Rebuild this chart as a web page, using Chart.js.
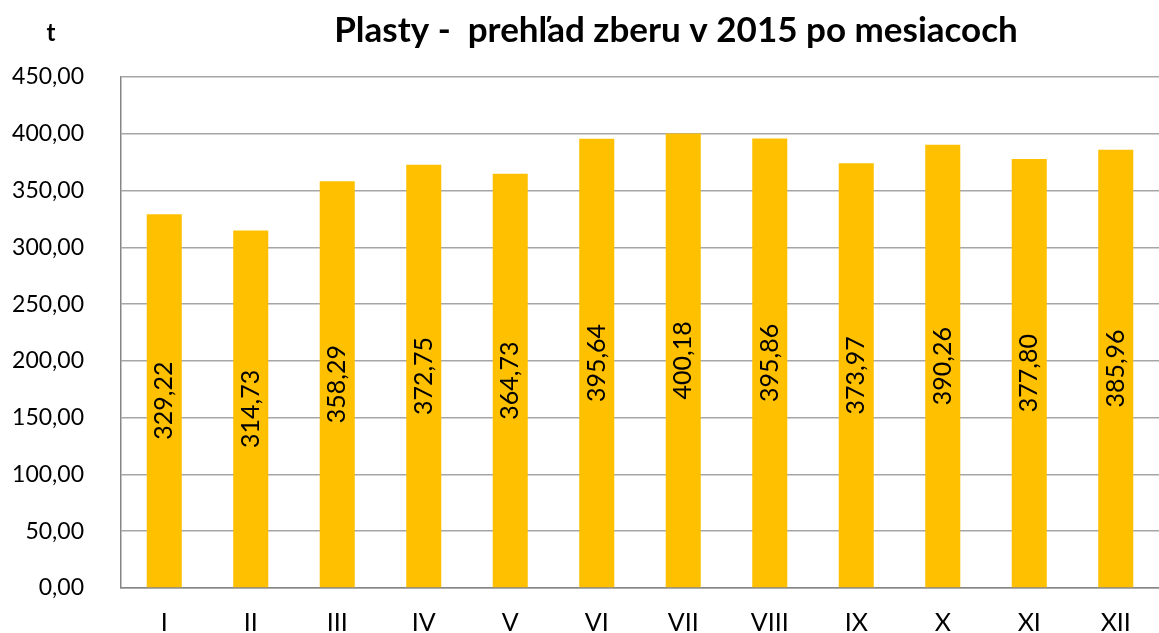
<!DOCTYPE html>
<html>
<head>
<meta charset="utf-8">
<script src="https://cdn.jsdelivr.net/npm/chart.js@4/dist/chart.umd.min.js"></script>
<style>
  html, body { margin: 0; padding: 0; background: #fff; }
  #wrap { width: 1159px; height: 633px; }
</style>
</head>
<body>
<div id="wrap"><canvas id="plastyChart" width="1159" height="633"></canvas></div>
<script>
const months = ['I', 'II', 'III', 'IV', 'V', 'VI', 'VII', 'VIII', 'IX', 'X', 'XI', 'XII'];
const tons = [329.22, 314.73, 358.29, 372.75, 364.73, 395.64, 400.18, 395.86, 373.97, 390.26, 377.80, 385.96];
const chartTitle = 'Plasty -  prehľad zberu v 2015 po mesiacoch';
const unitLabel = 't';

const fontFamily = 'Lato, "Open Sans", sans-serif';
const fmt = v => v.toFixed(2).replace('.', ',');

// title, unit and vertical value labels inside the bars
const labelsPlugin = {
  id: 'labels',
  afterDatasetsDraw(chart) {
    const ctx = chart.ctx;
    ctx.save();
    ctx.fillStyle = '#000';
    ctx.font = 'bold 35px ' + fontFamily;
    ctx.textAlign = 'center';
    ctx.textBaseline = 'middle';
    ctx.fillText(chartTitle, 676, 31);
    ctx.font = 'bold 24px ' + fontFamily;
    ctx.fillText(unitLabel, 51, 33);

    ctx.font = '25px ' + fontFamily;
    chart.getDatasetMeta(0).data.forEach((bar, i) => {
      ctx.save();
      ctx.translate(bar.x, (bar.y + bar.base) / 2);
      ctx.rotate(-Math.PI / 2);
      ctx.fillText(fmt(tons[i]), 0, 0);
      ctx.restore();
    });
    ctx.restore();
  }
};

new Chart(document.getElementById('plastyChart').getContext('2d'), {
  type: 'bar',
  data: {
    labels: months,
    datasets: [{
      data: tons,
      backgroundColor: '#FFC000',
      borderWidth: 0,
      barPercentage: 0.405,
      categoryPercentage: 1
    }]
  },
  options: {
    responsive: false,
    animation: false,
    layout: { padding: { top: 77, right: 0, bottom: 0, left: 0 } },
    plugins: {
      legend: { display: false },
      tooltip: { enabled: false }
    },
    scales: {
      x: {
        grid: { display: false, drawTicks: false },
        border: { color: '#868686', width: 1.5 },
        ticks: { color: '#000', font: { family: fontFamily, size: 25, lineHeight: 1 }, padding: 22 },
        afterFit(s) { s.height = 45; }
      },
      y: {
        min: 0,
        max: 450,
        grid: { color: '#a6a6a6', lineWidth: 1.5, drawTicks: false },
        border: { color: '#868686', width: 1.5 },
        ticks: {
          stepSize: 50,
          color: '#000',
          font: { family: fontFamily, size: 23 },
          padding: 37,
          callback: v => fmt(v)
        },
        afterFit(s) {
          s.width = 121;
          s.paddingTop = 0;
          s.paddingBottom = 0;
        }
      }
    }
  },
  plugins: [labelsPlugin]
});
</script>
</body>
</html>
